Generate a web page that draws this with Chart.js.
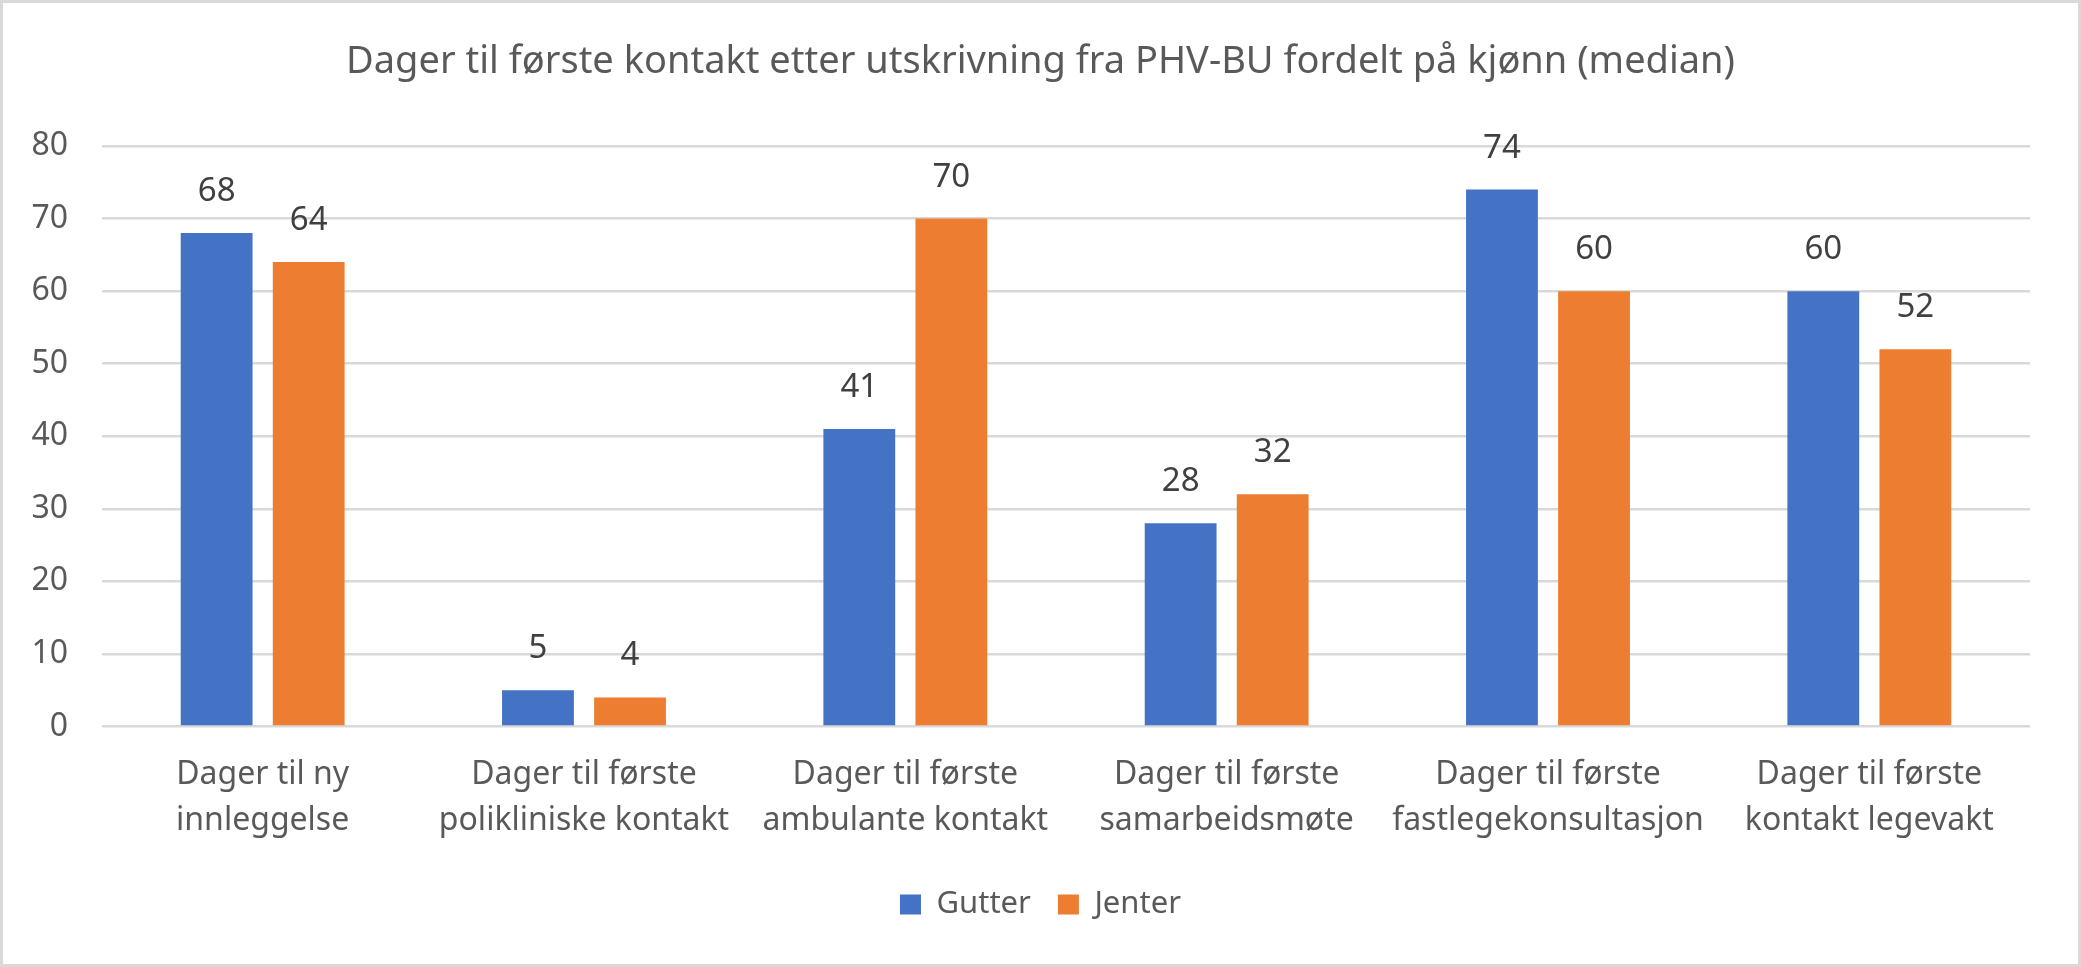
<!DOCTYPE html>
<html>
<head>
<meta charset="utf-8">
<script src="https://cdn.jsdelivr.net/npm/chart.js@4.4.1/dist/chart.umd.min.js"></script>
<style>
  html, body { margin: 0; padding: 0; background: #fff; }
  #wrap { position: relative; width: 2081px; height: 967px; }
  #frame { position: absolute; inset: 0; border: 3px solid #d9d9d9; box-sizing: border-box; pointer-events: none; }
</style>
</head>
<body>
<div id="wrap">
  <canvas id="chart"></canvas>
  <div id="frame"></div>
</div>
<script>
const categories = [
  ["Dager til ny", "innleggelse"],
  ["Dager til første", "polikliniske kontakt"],
  ["Dager til første", "ambulante kontakt"],
  ["Dager til første", "samarbeidsmøte"],
  ["Dager til første", "fastlegekonsultasjon"],
  ["Dager til første", "kontakt legevakt"]
];
const gutter = [68, 5, 41, 28, 74, 60];
const jenter = [64, 4, 70, 32, 60, 52];
const yTicks = [0, 10, 20, 30, 40, 50, 60, 70, 80];

const FONT = "'Noto Sans', 'Open Sans', sans-serif";

// labels over each bar, like Excel data labels
const barLabels = {
  id: "barLabels",
  afterDatasetsDraw(chart) {
    const ctx = chart.ctx;
    ctx.save();
    ctx.font = "33px " + FONT;
    ctx.fillStyle = "#404040";
    ctx.textAlign = "center";
    ctx.textBaseline = "alphabetic";
    chart.data.datasets.forEach((ds, i) => {
      chart.getDatasetMeta(i).data.forEach((bar, j) => {
        ctx.fillText(ds.data[j], bar.x, bar.y - 32);
      });
    });
    ctx.restore();
  }
};

new Chart(document.getElementById("chart"), {
  type: "bar",
  data: {
    labels: categories,
    datasets: [
      {
        label: "Gutter",
        data: gutter,
        backgroundColor: "#4472C4",
        categoryPercentage: 0.573,
        barPercentage: 0.78
      },
      {
        label: "Jenter",
        data: jenter,
        backgroundColor: "#ED7D31",
        categoryPercentage: 0.573,
        barPercentage: 0.78
      }
    ]
  },
  options: {
    responsive: true,
    maintainAspectRatio: false,
    animation: false,
    layout: { padding: { left: 0, right: 0, top: 39, bottom: 37 } },
    plugins: {
      title: {
        display: true,
        text: "Dager til første kontakt etter utskrivning fra PHV-BU fordelt på kjønn (median)",
        color: "#595959",
        font: { family: FONT, size: 38, weight: "normal", lineHeight: 1.2 },
        padding: { top: 0, bottom: 61.4 }
      },
      legend: {
        position: "bottom",
        labels: {
          color: "#595959",
          font: { family: FONT, size: 31 },
          boxWidth: 21,
          boxHeight: 20,
          padding: 27
        }
      },
      tooltip: { enabled: false }
    },
    scales: {
      x: {
        grid: { display: false },
        border: { display: false },
        afterFit(scale) {
          scale.height = 135.5;
        },
        ticks: {
          color: "#595959",
          font: { family: FONT, size: 32, lineHeight: 1.42 },
          padding: 18,
          maxRotation: 0,
          autoSkip: false
        }
      },
      y: {
        min: 0,
        max: 80,
        afterBuildTicks(scale) {
          scale.ticks = yTicks.map(v => ({ value: v }));
        },
        afterFit(scale) {
          scale.width = 102;
        },
        grid: { color: "#d9d9d9", lineWidth: 2.5, drawTicks: false },
        border: { display: false },
        ticks: {
          color: "#595959",
          font: { family: FONT, size: 32 },
          padding: 34
        }
      },
      // empty right margin so title and legend stay centred on the whole image
      spacer: {
        type: "linear",
        position: "right",
        grid: { display: false },
        border: { display: false },
        ticks: { display: false },
        afterFit(scale) {
          scale.width = 51;
        }
      }
    }
  },
  plugins: [barLabels]
});
</script>
</body>
</html>
